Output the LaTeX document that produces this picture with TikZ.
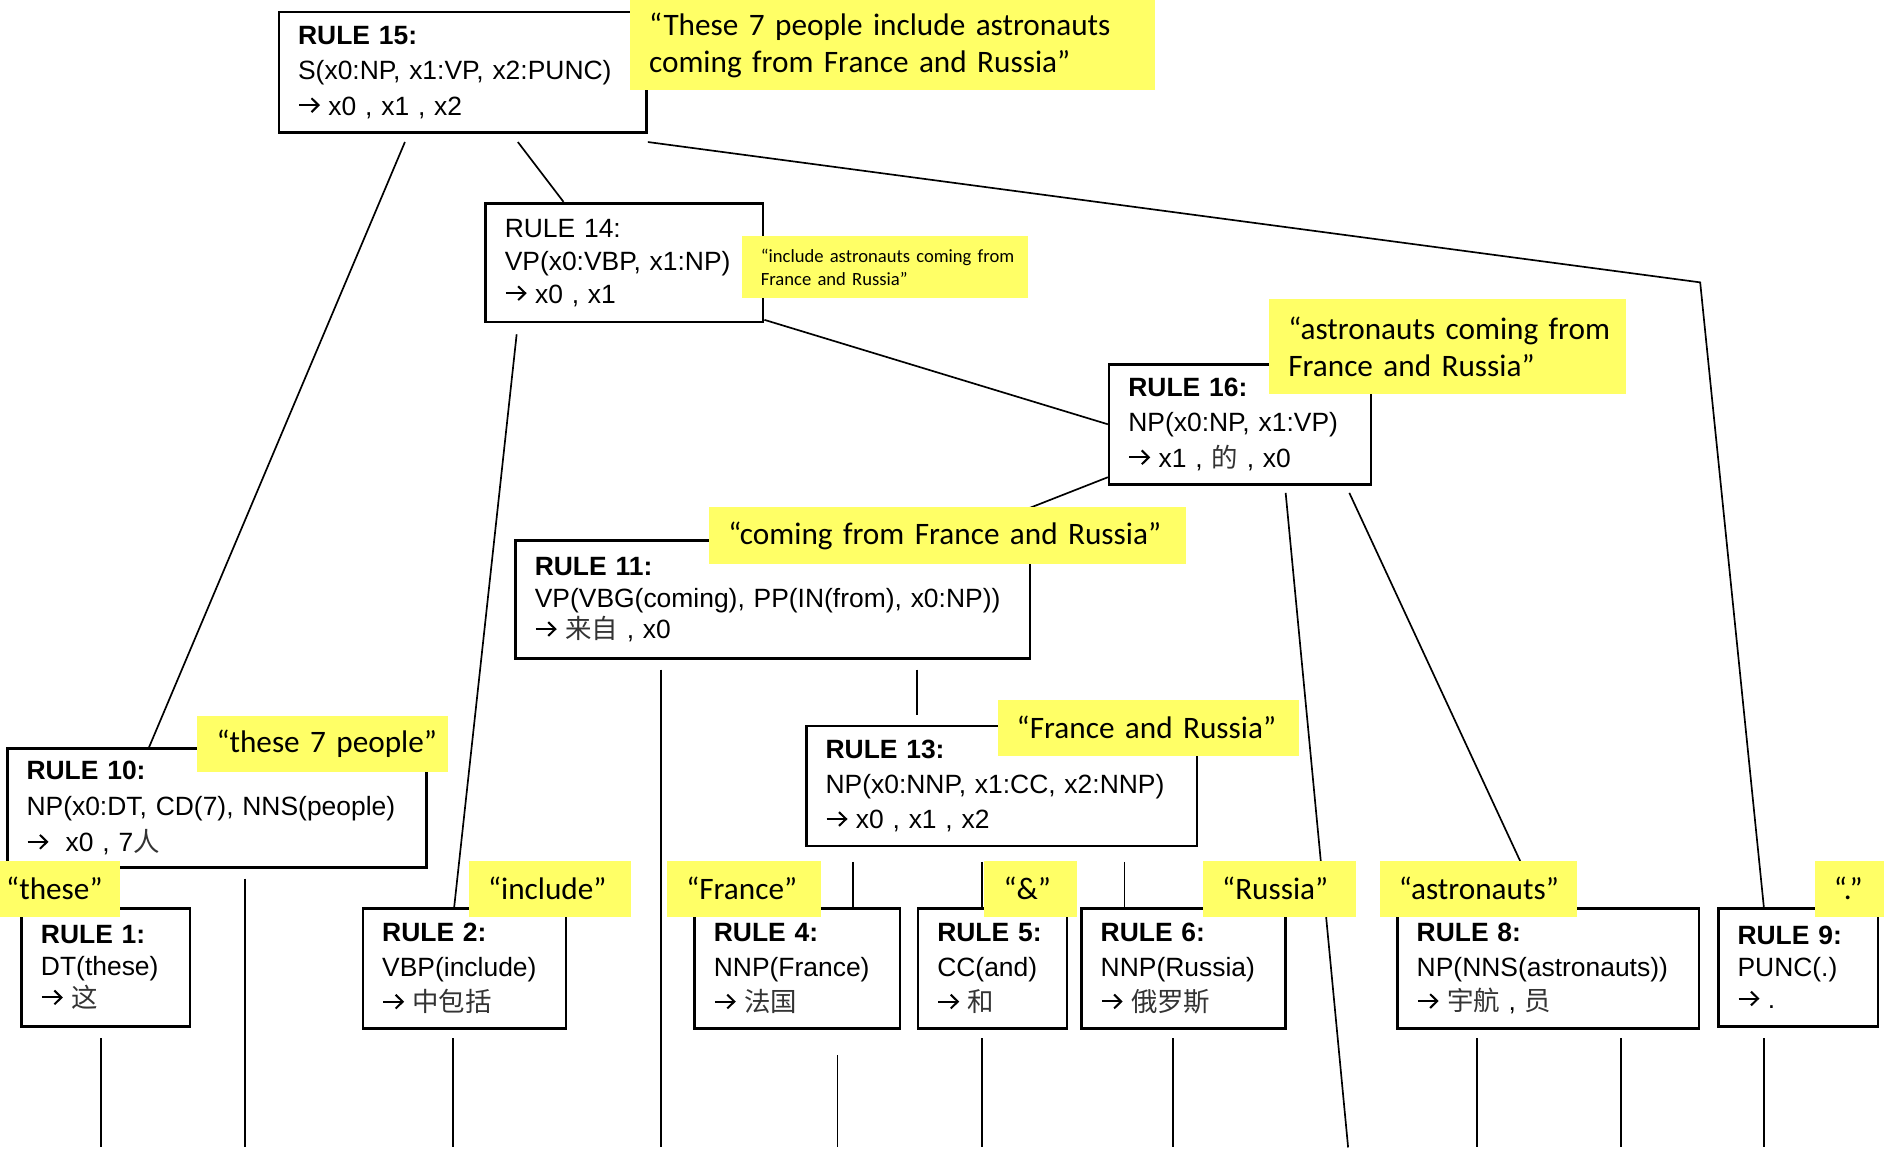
\documentclass[tikz,border=0pt]{standalone}
\usepackage{fontspec}
\setmainfont{Liberation Sans}
\newfontfamily\labelfont{Carlito}
\newfontfamily\cjk{Noto Sans CJK SC}
\usetikzlibrary{calc}
\pgfdeclarelayer{wires}
\pgfsetlayers{wires,main}
\definecolor{hilite}{RGB}{255,255,102}
\newcommand\zh[1]{{\cjk\color{black!80}#1}}
\newcommand\keepline[1]{\mbox{#1}}
% open-headed rewrite arrow used in the rule texts
\newcommand\ruleto{\tikz[baseline=0pt, x=1pt, y=1pt]{%
  \draw[line width=1.7pt, line cap=butt] (0,8.25) -- (16,8.25);
  \draw[line width=1.7pt, line cap=butt, line join=miter] (10.3,14) -- (16.2,8.25) -- (10.3,2.5);}}
\tikzset{
  % rule box: width, text width, height, line spacing
  rb/.style n args={4}{draw, line width=2.2pt, fill=white, anchor=north west,
    inner xsep=16pt, inner ysep=0pt, align=left,
    minimum width=#1pt, text width=#2pt, minimum height=#3pt,
    font=\fontsize{22}{#4}\selectfont},
  % highlighted phrase: width, text width, height
  yl/.style n args={3}{fill=hilite, anchor=north west,
    inner xsep=16pt, inner ysep=0pt, align=left,
    minimum width=#1pt, text width=#2pt, minimum height=#3pt,
    font=\labelfont\fontsize{26}{31}\selectfont},
  wire/.style={line width=1.4pt, line cap=butt}
}
\begin{document}
\begin{tikzpicture}[x=1pt, y=-1pt]
\useasboundingbox (0,0) rectangle (1568,959);

% rule boxes
\node[rb={306}{274}{100}{29.5}] (r15) at (231,9) {\textbf{RULE 15:}\\S(x0:NP, x1:VP, x2:PUNC)\\\ruleto{} x0 , x1 , x2};
\node[rb={231}{199}{99}{27.5}] (r14) at (403,168) {RULE 14:\\VP(x0:VBP, x1:NP)\\\ruleto{} x0 , x1};
\node[rb={218}{186}{100}{29.5}] (r16) at (922,302) {\textbf{RULE 16:}\\NP(x0:NP, x1:VP)\\\ruleto{} x1 , \zh{的} , x0};
\node[rb={428}{396}{98}{26.5}] (r11) at (428,449) {\textbf{RULE 11:}\\VP(VBG(coming), PP(IN(from), x0:NP))\\\ruleto{} \zh{来自} , x0};
\node[rb={325}{293}{100}{29.5}] (r13) at (670,603) {\textbf{RULE 13:}\\NP(x0:NNP, x1:CC, x2:NNP)\\\ruleto{} x0 , x1 , x2};
\node[rb={349}{317}{99}{30}] (r10) at (5,622) {\textbf{RULE 10:}\\NP(x0:DT, CD(7), NNS(people)\\\ruleto{}\ \ x0 , 7\zh{人}};
\node[rb={140}{108}{98}{26.5}] (r1) at (17,755) {\textbf{RULE 1:}\\DT(these)\\\ruleto{} \zh{这}};
\node[rb={169}{137}{100}{29}] (r2) at (301,755) {\textbf{RULE 2:}\\VBP(include)\\\ruleto{} \zh{中包括}};
\node[rb={171}{139}{100}{29}] (r4) at (577,755) {\textbf{RULE 4:}\\NNP(France)\\\ruleto{} \zh{法国}};
\node[rb={124}{92}{100}{29}] (r5) at (763,755) {\textbf{RULE 5:}\\CC(and)\\\ruleto{} \zh{和}};
\node[rb={170}{138}{100}{29}] (r6) at (899,755) {\textbf{RULE 6:}\\NNP(Russia)\\\ruleto{} \zh{俄罗斯}};
\node[rb={251}{219}{100}{29}] (r8) at (1162,755) {\textbf{RULE 8:}\\NP(NNS(astronauts))\\\ruleto{} \zh{宇航} , \zh{员}};
\node[rb={133}{101}{98}{26.5}] (r9) at (1429,755) {\textbf{RULE 9:}\\PUNC(.)\\\ruleto{} .};

% highlighted source phrases
\node[yl={437}{405}{75}] (q15) at (524,0) {\keepline{“These 7 people include astronauts}\\\keepline{coming from France and Russia”}};
\node[yl={238}{206}{52}, font=\labelfont\fontsize{15.5}{19}\selectfont] (q14) at (617,196) {\keepline{“include astronauts coming from}\\\keepline{France and Russia”}};
\node[yl={297}{265}{79}] (q16) at (1056,249) {\keepline{“astronauts coming from}\\\keepline{France and Russia”}};
\node[yl={397}{365}{47}] (q11) at (590,422) {\keepline{“coming from France and Russia”}};
\node[yl={251}{219}{47}] (q13) at (830,582) {\keepline{“France and Russia”}};
\node[yl={209}{177}{46}] (q10) at (164,596) {\keepline{“these 7 people”}};
\node[yl={111}{79}{47}] (q1) at (-11,716) {\keepline{“these”}};
\node[yl={135}{103}{47}] (q2) at (390,716) {\keepline{“include”}};
\node[yl={128}{96}{47}] (q4) at (555,716) {\keepline{“France”}};
\node[yl={77}{45}{47}] (q5) at (819,716) {\keepline{“\&”}};
\node[yl={127}{95}{47}] (q6) at (1001,716) {\keepline{“Russia”}};
\node[yl={164}{132}{47}] (q8) at (1148,716) {\keepline{“astronauts”}};
\node[yl={80}{48}{47}] (q9) at (1510,716) {\keepline{“.”}};

% free ends along the bottom and the bend towards RULE 9
\coordinate (bend9) at (1415,235);
\coordinate (f10) at (204,955);
\coordinate (f11) at (550,955);
\coordinate (f16) at (1122,955);
\coordinate (f1) at (84,955);
\coordinate (f2) at (377,955);
\coordinate (f4) at (697,955);
\coordinate (f5) at (817,955);
\coordinate (f6) at (976,955);
\coordinate (f8a) at (1229,955);
\coordinate (f8b) at (1349,955);
\coordinate (f9) at (1468,955);

\begin{pgfonlayer}{wires}
\fill[white] (0,0) rectangle (1568,959);
% tree edges
\draw[wire] ($(r15.south west)+(106,7)$) -- ($(r10.north west)+(119,0)$);
\draw[wire] ($(r15.south west)+(200,7)$) -- ($(r14.north west)+(66,0)$);
\draw[wire] ($(r15.south east)+(0,7)$) -- (bend9) -- ($(r9.north west)+(39,0)$);
\draw[wire] ($(r14.south west)+(27,9)$) -- ($(r2.north west)+(77,0)$);
\draw[wire] ($(r14.south east)+(0,-3)$) -- (r16.west);
\draw[wire] ($(r16.south west)+(0,-7)$) -- ($(r11.north west)+(362,0)$);
\draw[wire] ($(r16.south west)+(148,6)$) -- (f16);
\draw[wire] ($(r16.south west)+(201,6)$) -- ($(r8.north west)+(121,0)$);
\draw[wire] ($(r11.south west)+(122,8)$) -- (f11);
\draw[wire] ($(r11.south west)+(335,8)$) -- ($(r13.north west)+(93,-8)$);
\draw[wire] ($(r13.south west)+(40,12)$) -- ($(r4.north west)+(133,0)$);
\draw[wire] ($(r13.south west)+(147,12)$) -- ($(r5.north west)+(54,0)$);
\draw[wire] ($(r13.south west)+(266,12)$) -- ($(r6.north west)+(37,0)$);
\draw[wire] ($(r10.south west)+(199,8)$) -- (f10);
% leaf edges down to the target words
\draw[wire] ($(r1.south west)+(67,9)$) -- (f1);
\draw[wire] ($(r2.south west)+(76,7)$) -- (f2);
\draw[wire] ($(r4.south west)+(120,21)$) -- (f4);
\draw[wire] ($(r5.south west)+(54,7)$) -- (f5);
\draw[wire] ($(r6.south west)+(77,7)$) -- (f6);
\draw[wire] ($(r8.south west)+(67,7)$) -- (f8a);
\draw[wire] ($(r8.south west)+(187,7)$) -- (f8b);
\draw[wire] ($(r9.south west)+(39,9)$) -- (f9);
\end{pgfonlayer}
\end{tikzpicture}
\end{document}
